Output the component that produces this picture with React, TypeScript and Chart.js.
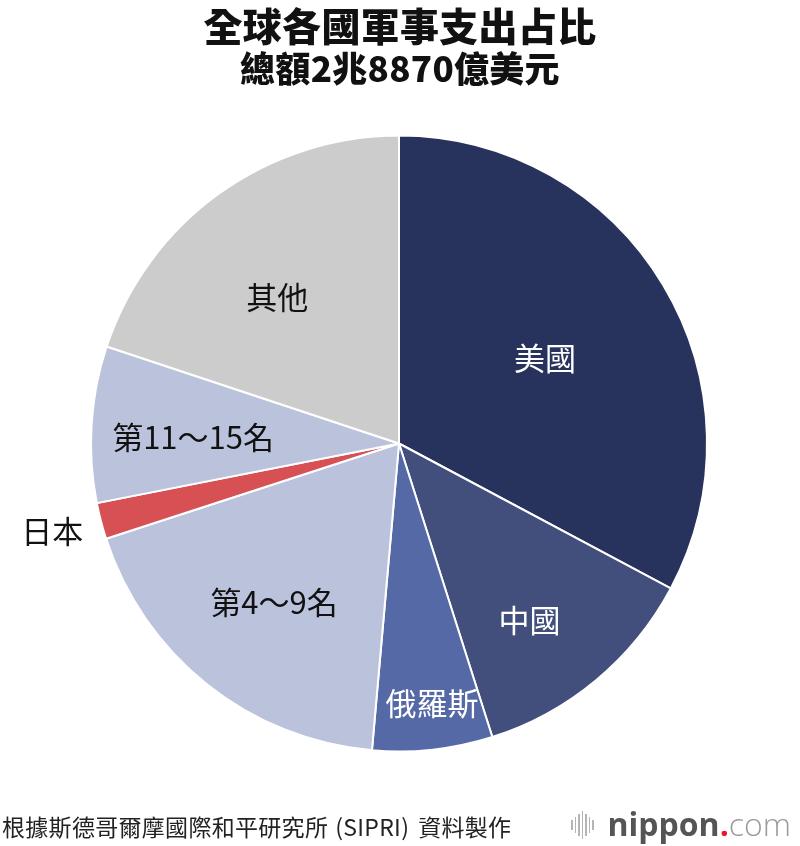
import React, { useEffect, useRef } from "react";
import { Chart, registerables } from "chart.js";

Chart.register(...registerables);

const categories = ["美國", "中國", "俄羅斯", "第4〜9名", "日本", "第11〜15名", "其他"];
const shares = [32.8, 12.3, 6.3, 18.6, 1.9, 8.2, 19.9];
const sliceColors = ["#27335c", "#424e7b", "#5569a6", "#bbc3dc", "#d75053", "#bbc3dc", "#cccccc"];
const labelColors = ["#ffffff", "#ffffff", "#ffffff", "#111111", "#111111", "#111111", "#111111"];
const labelRadius = [0.549, 0.713, 0.851, 0.655, 1.161, 0.669, 0.617];
const labelAngleShift = [0.013, 0.058, -0.016, -0.004, 0.008, -0.033, -0.071];

const titleText = "全球各國軍事支出占比";
const subtitleText = "總額2兆8870億美元";
const sourceParts = ["根據斯德哥爾摩國際和平研究所", "(SIPRI)", "資料製作"];

const FONT = '"Noto Sans CJK TC", "Noto Sans", sans-serif';

const sliceLabels = {
  id: "sliceLabels",
  afterDatasetsDraw(chart: any) {
    const ctx = chart.ctx;
    const meta = chart.getDatasetMeta(0);
    ctx.save();
    ctx.font = `400 31px ${FONT}`;
    ctx.textAlign = "center";
    ctx.textBaseline = "middle";
    meta.data.forEach((arc: any, i: number) => {
      const p = arc.getProps(["x", "y", "startAngle", "endAngle", "outerRadius"], true);
      const mid = (p.startAngle + p.endAngle) / 2 + labelAngleShift[i];
      const r = p.outerRadius * labelRadius[i];
      ctx.fillStyle = labelColors[i];
      ctx.fillText(categories[i], p.x + Math.cos(mid) * r, p.y + Math.sin(mid) * r);
    });
    ctx.restore();
  },
};

export default function App() {
  const ref = useRef<HTMLCanvasElement>(null);
  useEffect(() => {
    document.body.style.margin = "0";
    const chart = new Chart(ref.current!, {
      type: "pie",
      data: {
        labels: categories,
        datasets: [
          {
            data: shares,
            backgroundColor: sliceColors,
            borderColor: "#ffffff",
            borderWidth: 2,
          },
        ],
      },
      options: {
        animation: false,
        responsive: false,
        layout: { padding: { left: 90, right: 92, top: 134, bottom: 93 } },
        plugins: { legend: { display: false }, tooltip: { enabled: false }, title: { display: false } },
      },
      plugins: [sliceLabels],
    });
    return () => chart.destroy();
  }, []);

  const bars = [10, 16, 22, 28, 22, 16, 10];
  return (
    <div style={{ position: "relative", width: 800, height: 846, background: "#fff", fontFamily: FONT, overflow: "hidden" }}>
      <canvas ref={ref} width={800} height={846} style={{ position: "absolute", left: 0, top: 0 }} />
      <div style={{ position: "absolute", left: 0, top: 1, width: 800, textAlign: "center", fontSize: 39, fontWeight: 900, lineHeight: "46px", color: "#111", letterSpacing: 0.3 }}>
        {titleText}
      </div>
      <div style={{ position: "absolute", left: 0, top: 46, width: 800, textAlign: "center", fontSize: 35, fontWeight: 900, lineHeight: "42px", color: "#111", letterSpacing: 0.3 }}>
        {subtitleText}
      </div>
      <div style={{ position: "absolute", left: 2, top: 810, fontSize: 23, lineHeight: "32px", color: "#222", letterSpacing: 0.3, whiteSpace: "nowrap" }}>
        <span>{sourceParts[0]}</span>
        <span style={{ margin: "0 9px 0 7px" }}>{sourceParts[1]}</span>
        <span>{sourceParts[2]}</span>
      </div>
      <div style={{ position: "absolute", left: 571, top: 800, display: "flex", alignItems: "center", height: 46 }}>
        <div style={{ display: "flex", alignItems: "center", gap: 2, marginRight: 14, marginTop: 4 }}>
          {bars.map((h, i) => (
            <div key={i} style={{ width: 1.5, height: h, background: "#b5b5b5" }} />
          ))}
        </div>
        <span style={{ fontFamily: '"Open Sans", sans-serif', fontSize: 32, fontWeight: 700, color: "#555" }}>nippon</span>
        <span style={{ fontFamily: '"Open Sans", sans-serif', fontSize: 32, fontWeight: 700, color: "#e8192c" }}>.</span>
        <span style={{ fontFamily: '"Open Sans", sans-serif', fontSize: 32, fontWeight: 300, color: "#9a9a9a" }}>com</span>
      </div>
    </div>
  );
}
